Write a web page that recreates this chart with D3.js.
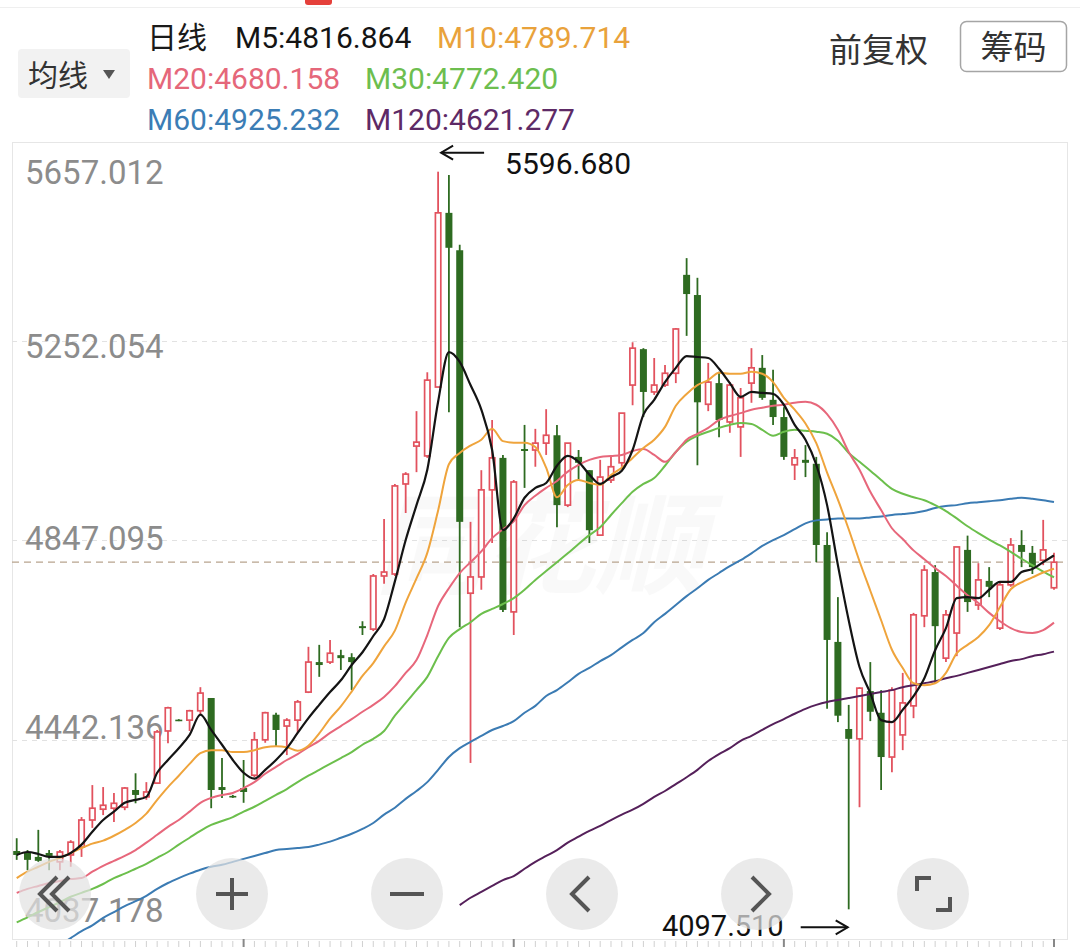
<!DOCTYPE html>
<html><head><meta charset="utf-8">
<script src="https://cdn.jsdelivr.net/npm/d3@7/dist/d3.min.js"></script>
<style>html,body{margin:0;padding:0;background:#fff;overflow:hidden}svg{display:block}</style>
</head><body>
<svg id="chart" width="1080" height="947"></svg>
<script>
// ---------------- DATA ----------------
const open = [4216,4212,4204,4212,4194,4208,4224,4279,4301,4303,
  4305,4340,4326,4354,4460,4483,4482,4501,4527,4346,
  4328,4344,4370,4442,4493,4470,4482,4539,4600,4600,
  4614,4610,4673,4667,4775,4779,4962,5039,5019,5159,
  5513,5437,4740,4773,4950,5015,4702,5033,5031,5045,
  5061,4919,5017,4990,4858,4970,5005,5163,5236,5149,
  5163,5187,5387,5346,5124,5167,5088,5078,5167,5198,
  5133,5098,5001,5011,5003,4838,4641,4464,4444,4541,
  4497,4407,4452,4511,4694,4783,4608,4659,4828,4716,
  4765,4669,4757,4838,4822,4807,4751];
const high = [4242,4218,4259,4218,4218,4238,4285,4350,4346,4334,
  4346,4374,4356,4462,4509,4484,4503,4549,4527,4405,
  4330,4401,4458,4499,4497,4486,4523,4631,4635,4645,
  4625,4618,4683,4779,4891,4962,4986,5110,5189,5596.68,
  5590,5448,4885,4990,5092,5021,4970,5082,5074,5114,
  5082,5045,5031,4990,5011,5021,5106,5250,5238,5218,
  5204,5279,5421,5381,5208,5190,5169,5157,5238,5224,
  5194,5118,5033,5041,5017,4864,4732,4513,4549,4600,
  4543,4549,4578,4700,4797,4797,4706,4834,4857,4801,
  4793,4761,4852,4868,4836,4889,4822];
const low = [4198,4177,4194,4177,4177,4184,4204,4263,4289,4275,
  4299,4313,4320,4354,4435,4480,4460,4493,4303,4324,
  4324,4314,4366,4436,4428,4411,4456,4537,4570,4596,
  4584,4543,4655,4663,4759,4775,4903,4986,5015,5159,
  5108,4671,4395,4747,4842,4702,4655,4954,4997,5021,
  4874,4915,4970,4842,4858,4964,4997,5122,5098,5143,
  5159,5167,5263,5000,5110,5057,5066,5017,5127,5133,
  5082,5011,4970,4976,4803,4505,4478,4097.51,4305,4480,
  4340,4376,4421,4486,4671,4557,4600,4612,4702,4706,
  4732,4665,4753,4793,4779,4797,4747];
const close = [4208,4198,4196,4206,4214,4234,4279,4303,4309,4313,
  4344,4330,4336,4458,4507,4481,4501,4537,4340,4340,
  4326,4336,4442,4497,4462,4482,4519,4600,4594,4618,
  4608,4600,4669,4775,4783,4958,4982,5047,5173,5513,
  5442,4885,4773,4950,5015,4706,4966,5029,5045,5061,
  4919,5045,5005,4868,4976,4997,5106,5238,5149,5163,
  5187,5277,5348,5128,5169,5092,5163,5137,5198,5137,
  5098,5017,5015,5005,4838,4645,4491,4444,4547,4499,
  4407,4543,4517,4696,4787,4673,4696,4834,4722,4767,
  4753,4757,4838,4824,4793,4828,4803];

const ma5 = [4208,4214,4210,4204,4204,4212,4229,4255,4279,4296,
  4314,4320,4326,4375,4401,4425,4452,4493,4462,4432,
  4401,4375,4363,4381,4401,4425,4456,4486,4513,4539,
  4563,4594,4620,4653,4687,4764,4848,4919,4991,5129,
  5230,5210,5163,5113,5031,4868,4892,4934,4954,4964,
  4999,5019,5007,4981,4962,4976,4989,5031,5103,5133,
  5169,5198,5222,5220,5218,5196,5167,5139,5149,5147,
  5145,5123,5082,5052,5001,4919,4797,4685,4590,4537,
  4482,4478,4503,4531,4567,4624,4669,4730,4732,4730,
  4747,4763,4763,4783,4789,4803,4816.864];
const ma10 = [4161,4174,4184,4194,4202,4212,4222,4231,4237,4247,
  4259,4273,4292,4320,4346,4369,4393,4415,4421,4421,
  4417,4417,4421,4427,4429,4427,4420,4430,4455,4485,
  4510,4540,4572,4598,4632,4664,4721,4770,4822,4908,
  5002,5025,5040,5052,5074,5049,5046,5046,5037,4995,
  4935,4960,4970,4964,4960,4980,4995,5015,5035,5052,
  5078,5121,5145,5163,5173,5188,5186,5186,5190,5186,
  5169,5137,5113,5085,5045,4985,4930,4870,4805,4745,
  4685,4625,4588,4557,4553,4557,4578,4618,4635,4651,
  4675,4712,4748,4762,4772,4782,4789.714];
const ma20 = [4131,4139,4145,4151,4155,4159,4161,4174,4186,4196,
  4206,4218,4233,4249,4265,4279,4296,4314,4324,4330,
  4334,4344,4356,4373,4387,4401,4413,4427,4440,4456,
  4470,4484,4499,4513,4529,4551,4578,4604,4655,4714,
  4750,4781,4803,4825,4852,4870,4886,4919,4938,4954,
  4968,4987,5001,5011,5017,5019,5021,5029,5033,5021,
  5007,5027,5052,5064,5076,5092,5100,5106,5113,5117,
  5121,5123,5127,5129,5123,5104,5072,5027,4991,4946,
  4909,4872,4850,4827,4809,4791,4775,4755,4736,4720,
  4700,4683,4669,4661,4659,4665,4680.158];
const ma30 = [4071,4081,4092,4102,4112,4123,4131,4139,4149,4161,
  4170,4180,4190,4202,4214,4229,4243,4257,4269,4277,
  4285,4296,4306,4318,4330,4342,4356,4369,4381,4393,
  4405,4417,4432,4444,4460,4491,4517,4543,4570,4612,
  4649,4667,4681,4698,4708,4718,4730,4747,4767,4785,
  4803,4821,4840,4858,4874,4899,4923,4946,4962,4974,
  4999,5027,5048,5060,5068,5076,5082,5086,5084,5072,
  5060,5068,5072,5070,5068,5064,5050,5025,5007,4989,
  4970,4952,4942,4935,4929,4919,4907,4892,4876,4862,
  4849,4837,4824,4810,4797,4784,4772.42];
const ma60 = [null,null,null,null,4025,4039,4053,4065,4080,4092,
  4104,4114,4125,4139,4151,4161,4170,4178,4184,4188,
  4194,4200,4206,4212,4218,4220,4222,4224,4229,4235,
  4243,4251,4261,4273,4290,4304,4322,4338,4356,4381,
  4407,4425,4438,4450,4462,4470,4480,4497,4511,4531,
  4543,4559,4576,4588,4602,4614,4630,4645,4659,4681,
  4698,4716,4734,4750,4767,4781,4795,4807,4821,4836,
  4848,4858,4870,4882,4888,4890,4892,4892,4892,4894,
  4896,4899,4901,4903,4907,4913,4917,4919,4923,4925,
  4927,4929,4932,4934,4932,4929,4925.232];
const ma120 = [null,null,null,null,null,null,null,null,null,null,
  null,null,null,null,null,null,null,null,null,null,
  null,null,null,null,null,null,null,null,null,null,
  null,null,null,null,null,null,null,null,null,null,
  null,4106,4121,4133,4145,4157,4165,4180,4194,4206,
  4218,4233,4245,4257,4267,4279,4290,4300,4312,4326,
  4338,4352,4366,4381,4399,4413,4425,4440,4450,4462,
  4474,4484,4495,4505,4513,4519,4523,4527,4531,4535,
  4539,4543,4549,4553,4557,4561,4567,4572,4578,4584,
  4590,4596,4602,4606,4612,4616,4621.277];

const maNames = ["M5","M10","M20","M30","M60","M120"];
const yTickValues = [5657.012, 5252.054, 4847.095, 4442.136, 4037.178];
const yTickLabels = ["5657.012","5252.054","4847.095","4442.136","4037.178"];

// ---------------- LAYOUT / STYLE ----------------
const FONT = "Roboto, 'Noto Sans', Arial, sans-serif";
const CJK = "'Noto Sans CJK SC', 'Noto Sans', sans-serif";
const maColors = ["#141414","#EFA43C","#E7677B","#6CBF4C","#3B7BB3","#55205A"];
const maText   = ["#141414","#E9A23B","#E5677A","#6DBE4F","#3B7DB5","#5E2A66"];
const RED = "#E2525E", GREEN = "#2E6B21";
const plot = {left:12, right:1067, top:142, bottom:939};
const labelOffsets = [30, 5, -2, -12, -29];

const svg = d3.select("#chart");
const N = close.length;
const x = d3.scaleLinear().domain([0, N-1]).range([16.7, 1054]);
const y = d3.scaleLinear().domain([4037.178, 5657.012]).range([plot.bottom, plot.top]);

// top decoration
svg.append("rect").attr("x",305).attr("y",-6).attr("width",27).attr("height",11).attr("rx",3).attr("fill","#E5403B");
svg.append("line").attr("x1",0).attr("x2",1080).attr("y1",7.5).attr("y2",7.5).attr("stroke","#EFEFEF").attr("stroke-width",1);

// ---------------- HEADER ----------------
const hdr = svg.append("g");
hdr.append("text").attr("x",147).attr("y",48).attr("font-family",CJK).attr("font-size",30).attr("fill","#1a1a1a").text("日线");
const allMA = [ma5, ma10, ma20, ma30, ma60, ma120];
const hdrPos = [[235,48],[437,48],[147,89],[365,89],[147,130],[365,130]];
maNames.forEach((n,i)=>{
  const arr = allMA[i];
  hdr.append("text").attr("x",hdrPos[i][0]).attr("y",hdrPos[i][1])
    .attr("font-family",FONT).attr("font-size",30).attr("fill",maText[i])
    .text(n + ":" + arr[arr.length-1].toFixed(3));
});
// 均线 button
hdr.append("rect").attr("x",18).attr("y",49).attr("width",112).attr("height",49).attr("rx",4).attr("fill","#F2F2F2");
hdr.append("text").attr("x",28).attr("y",86).attr("font-family",CJK).attr("font-size",30).attr("fill","#333").text("均线");
hdr.append("path").attr("d","M103,70 L115,70 L109,79 Z").attr("fill","#555");
// 前复权 / 筹码
hdr.append("text").attr("x",829).attr("y",62).attr("font-family",CJK).attr("font-size",33).attr("fill","#333").text("前复权");
hdr.append("rect").attr("x",960.5).attr("y",21.5).attr("width",106).attr("height",50).attr("rx",6)
  .attr("fill","#fff").attr("stroke","#A5A5A5").attr("stroke-width",1.5);
hdr.append("text").attr("x",1013.5).attr("y",59).attr("text-anchor","middle").attr("font-family",CJK).attr("font-size",33).attr("fill","#333").text("筹码");

// ---------------- PLOT FRAME / GRID ----------------
svg.append("rect").attr("x",plot.left+0.5).attr("y",plot.top+0.5)
  .attr("width",plot.right-plot.left).attr("height",plot.bottom-plot.top)
  .attr("fill","none").attr("stroke","#E6E6E6").attr("stroke-width",1);

svg.append("g").selectAll("line").data(yTickValues.slice(1,4)).join("line")
  .attr("x1",plot.left).attr("x2",plot.right)
  .attr("y1",d=>Math.round(y(d))+0.5).attr("y2",d=>Math.round(y(d))+0.5)
  .attr("stroke","#E2E2E2").attr("stroke-width",1).attr("stroke-dasharray","5,5");

// y labels
svg.append("g").selectAll("text").data(yTickValues).join("text")
  .attr("x",25).attr("y",(d,i)=>y(d)+labelOffsets[i])
  .attr("dominant-baseline","central")
  .attr("font-family",FONT).attr("font-size",33).attr("fill","#8C8C8C")
  .text((d,i)=>yTickLabels[i]);

// watermark
svg.append("text").attr("x",540).attr("y",585).attr("text-anchor","middle")
  .attr("font-family",CJK).attr("font-size",110).attr("font-weight",700).attr("font-style","italic")
  .attr("fill","#000").attr("opacity",0.02).text("同花顺");

// clip
svg.append("clipPath").attr("id","clip").append("rect")
  .attr("x",plot.left).attr("y",plot.top).attr("width",plot.right-plot.left).attr("height",plot.bottom-plot.top);

// current price line
const lastClose = close[N-1];
svg.append("line").attr("x1",plot.left).attr("x2",plot.right)
  .attr("y1",y(lastClose)).attr("y2",y(lastClose))
  .attr("stroke","#B8A48E").attr("stroke-width",1.3).attr("stroke-dasharray","7,5");

// ---------------- CANDLES ----------------
const cg = svg.append("g").attr("clip-path","url(#clip)");
const candles = close.map((c,i)=>({i, o:open[i], h:high[i], l:low[i], c}));
const bodyW = 7;
cg.selectAll("line.wick").data(candles).join("line").attr("class","wick")
  .attr("x1",d=>x(d.i)).attr("x2",d=>x(d.i))
  .attr("y1",d=>y(d.h)).attr("y2",d=>y(d.l))
  .attr("stroke",d=>d.c>=d.o?RED:GREEN).attr("stroke-width",1.8);
cg.selectAll("rect.body").data(candles).join("rect").attr("class","body")
  .attr("x",d=>d.c>=d.o ? x(d.i)-bodyW/2+0.8 : x(d.i)-bodyW/2)
  .attr("width",d=>d.c>=d.o ? bodyW-1.6 : bodyW)
  .attr("y",d=>y(Math.max(d.o,d.c)))
  .attr("height",d=>Math.max(1.6, Math.abs(y(d.o)-y(d.c))))
  .attr("fill",d=>d.c>=d.o?"#fff":GREEN)
  .attr("stroke",d=>d.c>=d.o?RED:"none")
  .attr("stroke-width",1.7);

// ---------------- MOVING AVERAGES ----------------
const lg = svg.append("g").attr("clip-path","url(#clip)");
const order = [5,4,3,2,1,0];
order.forEach(k=>{
  const line = d3.line().defined(v=>v!=null).x((v,i)=>x(i)).y(v=>y(v)).curve(d3.curveMonotoneX);
  lg.append("path").attr("d",line(allMA[k])).attr("fill","none")
    .attr("stroke",maColors[k]).attr("stroke-width",k===0?2.2:2)
    .attr("stroke-linejoin","round");
});

// ---------------- HIGH / LOW MARKERS ----------------
const maxHigh = d3.max(high), iHigh = high.indexOf(maxHigh);
const minLow = d3.min(low), iLow = low.indexOf(minLow);
const ann = svg.append("g").attr("stroke","#111").attr("stroke-width",2).attr("fill","none");
const hx = x(iHigh)+3, hy = y(maxHigh)-19;
ann.append("line").attr("x1",hx).attr("x2",hx+43).attr("y1",hy).attr("y2",hy);
ann.append("polyline").attr("points",`${hx+12},${hy-7} ${hx},${hy} ${hx+12},${hy+7}`);
svg.append("text").attr("x",hx+64).attr("y",hy+21).attr("font-family",FONT).attr("font-size",30).attr("fill","#111").text(maxHigh.toFixed(3));
const lx = x(iLow)-1, ly = y(minLow)+18;
ann.append("line").attr("x1",lx-47).attr("x2",lx).attr("y1",ly).attr("y2",ly);
ann.append("polyline").attr("points",`${lx-12},${ly-7} ${lx},${ly} ${lx-12},${ly+7}`);
svg.append("text").attr("x",lx-64).attr("y",ly+9).attr("text-anchor","end").attr("font-family",FONT).attr("font-size",29).attr("fill","#111").text(minLow.toFixed(3));

// ---------------- BOTTOM TICK STRIP ----------------
svg.append("g").selectAll("line").data(candles).join("line")
  .attr("x1",d=>x(d.i)).attr("x2",d=>x(d.i))
  .attr("y1",d=>(N-1-d.i)%25===0?939:941).attr("y2",947)
  .attr("stroke",d=>(N-1-d.i)%25===0?"#888":"#D0D0D0")
  .attr("stroke-width",d=>(N-1-d.i)%25===0?2:1);

// ---------------- OVERLAY BUTTONS ----------------
const btnX = [55, 232, 407, 582, 757, 933], btnY = 894;
const bg = svg.append("g");
bg.selectAll("circle").data(btnX).join("circle")
  .attr("cx",d=>d).attr("cy",btnY).attr("r",36).attr("fill","rgb(226,226,226)").attr("opacity",0.72);
const ic = bg.append("g").attr("stroke","#555").attr("stroke-width",4).attr("fill","none").attr("stroke-linecap","butt");
ic.append("polyline").attr("points",`57,877 40,894 57,911`);
ic.append("polyline").attr("points",`69,877 52,894 69,911`);
ic.append("line").attr("x1",216).attr("x2",248).attr("y1",btnY).attr("y2",btnY);
ic.append("line").attr("x1",232).attr("x2",232).attr("y1",878).attr("y2",910);
ic.append("line").attr("x1",390).attr("x2",424).attr("y1",btnY).attr("y2",btnY);
ic.append("polyline").attr("points",`589,877 572,894 589,911`);
ic.append("polyline").attr("points",`752,877 769,894 752,911`);
ic.append("polyline").attr("points",`917,891 917,878 931,878`);
ic.append("polyline").attr("points",`950,897 950,910 936,910`);
</script>
</body></html>
